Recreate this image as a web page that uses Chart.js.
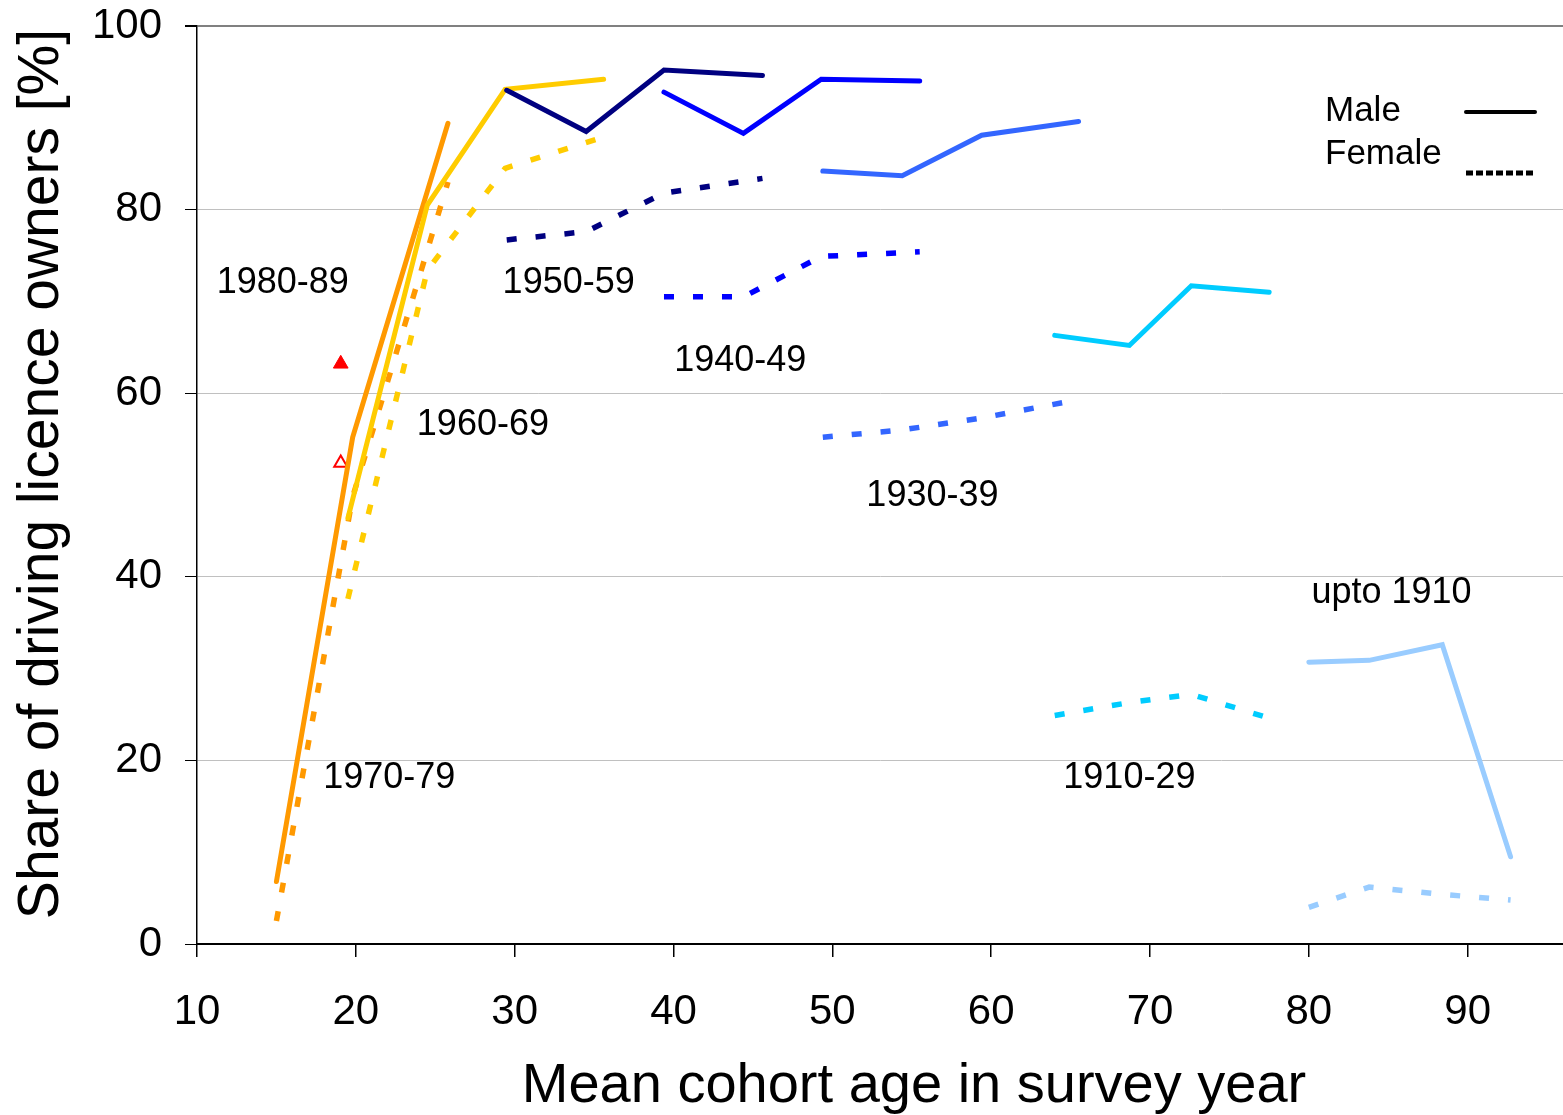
<!DOCTYPE html>
<html>
<head>
<meta charset="utf-8">
<script src="https://cdn.jsdelivr.net/npm/chart.js@4/dist/chart.umd.min.js"></script>
<style>
  body { margin: 0; background: #fff; }
  #wrap { width: 1563px; height: 1115px; }
</style>
</head>
<body>
<div id="wrap"><canvas id="chart" width="1563" height="1115"></canvas></div>
<script>
// mean cohort age in the survey year, share of licence owners [%]
const age7079 = [15.0, 19.8, 25.8];
const male7079 = [6.8, 55.2, 89.4];
const female7079 = [2.5, 48.7, 83.0];

const age6069 = [19.5, 24.5, 29.4, 35.6];
const male6069 = [46.4, 80.5, 93.1, 94.2];
const female6069 = [37.6, 73.4, 84.5, 87.9];

const age5059 = [29.5, 34.5, 39.4, 45.6];
const male5059 = [93.0, 88.5, 95.2, 94.6];
const female5059 = [76.7, 77.6, 81.8, 83.4];

const age4049 = [39.4, 44.4, 49.3, 55.5];
const male4049 = [92.8, 88.3, 94.2, 94.0];
const female4049 = [70.5, 70.5, 74.9, 75.4];

const age3039 = [49.4, 54.4, 59.4, 65.5];
const male3039 = [84.2, 83.7, 88.1, 89.6];
const female3039 = [55.2, 56.0, 57.3, 59.3];

const age1029 = [64.0, 68.7, 72.6, 77.5];
const male1029 = [66.3, 65.2, 71.7, 71.0];
const female1029 = [24.9, 26.3, 27.2, 24.6];

const ageTo1910 = [80.0, 83.8, 88.4, 92.7];
const maleTo1910 = [30.7, 30.9, 32.6, 9.5];
const femaleTo1910 = [4.0, 6.2, 5.4, 4.8];

// youngest cohort, one survey only
const age8089 = [19.05];
const male8089 = [63.2];
const female8089 = [52.4];

const cohortNames = ['1980-89', '1950-59', '1940-49', '1960-69', '1930-39', 'upto 1910', '1910-29', '1970-79'];
const nameAge = [15.4, 33.4, 44.2, 28.0, 56.3, 85.2, 68.7, 22.1];
const nameShare = [72.3, 72.3, 63.8, 56.8, 49.1, 38.6, 18.4, 18.4];

const xTicks = [10, 20, 30, 40, 50, 60, 70, 80, 90];

const FONT = "'Liberation Sans', Arial, sans-serif";

function pts(xs, ys) {
    return xs.map((x, i) => ({ x: x, y: ys[i] }));
}

function male(label, xs, ys, color) {
    return {
        label: label + ' male', data: pts(xs, ys),
        borderColor: color, borderWidth: 5, pointRadius: 0,
        borderCapStyle: 'round', borderJoinStyle: 'miter', tension: 0
    };
}

function female(label, xs, ys, color) {
    return {
        label: label + ' female', data: pts(xs, ys),
        borderColor: color, borderWidth: 5.5, pointRadius: 0,
        borderDash: [10, 19], borderCapStyle: 'butt', tension: 0
    };
}

const datasets = [
    female('1910-29', age1029, female1029, '#00ccff'),
    male('1910-29', age1029, male1029, '#00ccff'),
    female('upto 1910', ageTo1910, femaleTo1910, '#99ccff'),
    male('upto 1910', ageTo1910, maleTo1910, '#99ccff'),
    female('1930-39', age3039, female3039, '#3366ff'),
    male('1930-39', age3039, male3039, '#3366ff'),
    female('1940-49', age4049, female4049, '#0000ff'),
    male('1940-49', age4049, male4049, '#0000ff'),
    female('1950-59', age5059, female5059, '#000080'),
    male('1950-59', age5059, male5059, '#000080'),
    female('1960-69', age6069, female6069, '#ffcc00'),
    male('1960-69', age6069, male6069, '#ffcc00'),
    female('1970-79', age7079, female7079, '#ff9900'),
    male('1970-79', age7079, male7079, '#ff9900'),
    {
        label: '1980-89 male', data: pts(age8089, male8089), showLine: false,
        pointStyle: 'triangle', pointRadius: 8.5, backgroundColor: '#ff0000', borderColor: '#ff0000', borderWidth: 1
    },
    {
        label: '1980-89 female', data: pts(age8089, female8089), showLine: false,
        pointStyle: 'triangle', pointRadius: 7.5, backgroundColor: '#ffffff', borderColor: '#ff0000', borderWidth: 2
    }
];

// cohort names written next to their curves
const cohortLabels = {
    id: 'cohortLabels',
    afterDatasetsDraw(chart) {
        const ctx = chart.ctx;
        const xs = chart.scales.x, ys = chart.scales.y;
        ctx.save();
        ctx.font = '36px ' + FONT;
        ctx.fillStyle = '#000';
        ctx.textAlign = 'center';
        ctx.textBaseline = 'middle';
        cohortNames.forEach((name, i) => {
            // +3px: 'middle' sits a bit above the digit centre
            ctx.fillText(name, xs.getPixelForValue(nameAge[i]), ys.getPixelForValue(nameShare[i]) + 3);
        });
        ctx.restore();
    }
};

// key for solid (male) and dotted (female) lines
const sexKey = {
    id: 'sexKey',
    afterDatasetsDraw(chart) {
        const ctx = chart.ctx;
        const a = chart.chartArea;
        const tx = a.right - 238, lx0 = a.right - 97, lx1 = a.right - 28;
        ctx.save();
        ctx.font = '35px ' + FONT;
        ctx.fillStyle = '#000';
        ctx.textAlign = 'left';
        ctx.textBaseline = 'middle';
        ctx.fillText('Male', tx, a.top + 85);
        ctx.fillText('Female', tx, a.top + 128);
        ctx.strokeStyle = '#000';
        ctx.lineWidth = 4;
        ctx.lineCap = 'round';
        ctx.beginPath();
        ctx.moveTo(lx0, a.top + 86);
        ctx.lineTo(lx1, a.top + 86);
        ctx.stroke();
        ctx.lineWidth = 5;
        ctx.lineCap = 'butt';
        ctx.setLineDash([7, 3]);
        ctx.beginPath();
        ctx.moveTo(lx0, a.top + 147);
        ctx.lineTo(lx1, a.top + 147);
        ctx.stroke();
        ctx.restore();
    }
};

// axis titles, placed off the plot box
const axisTitles = {
    id: 'axisTitles',
    afterDraw(chart) {
        const ctx = chart.ctx;
        const a = chart.chartArea;
        ctx.save();
        ctx.fillStyle = '#000';
        ctx.textAlign = 'center';
        ctx.textBaseline = 'middle';
        ctx.font = '56px ' + FONT;
        ctx.fillText('Mean cohort age in survey year', (a.left + a.right) / 2 + 34, chart.height - 28);
        ctx.translate(42, (a.top + a.bottom) / 2 - 11);
        ctx.rotate(-Math.PI / 2);
        ctx.font = '57px ' + FONT;
        ctx.fillText('Share of driving licence owners [%]', 0, 0);
        ctx.restore();
    }
};

Chart.defaults.font.family = FONT;
Chart.defaults.color = '#000';

new Chart(document.getElementById('chart').getContext('2d'), {
    type: 'line',
    data: { datasets: datasets },
    plugins: [cohortLabels, sexKey, axisTitles],
    options: {
        responsive: false,
        animation: false,
        layout: { autoPadding: false, padding: { top: 26, right: 0, left: 0, bottom: 0 } },
        plugins: { legend: { display: false }, tooltip: { enabled: false } },
        scales: {
            x: {
                type: 'linear', min: 10, max: 96,
                afterBuildTicks: (scale) => { scale.ticks = xTicks.map(v => ({ value: v })); },
                afterFit: (scale) => {
                    scale.height = 171;
                    scale.paddingLeft = 0;
                    scale.paddingRight = 0;
                },
                ticks: { font: { size: 42 }, padding: 30, maxRotation: 0 },
                grid: { drawOnChartArea: false, tickLength: 13, tickColor: '#000', lineWidth: 1.5 },
                border: { color: '#000', width: 2 }
            },
            y: {
                min: 0, max: 100,
                afterFit: (scale) => {
                    scale.width = 197;
                    scale.paddingTop = 0;
                    scale.paddingBottom = 0;
                },
                ticks: { stepSize: 20, font: { size: 42 }, padding: 23 },
                grid: {
                    color: (c) => c.tick && c.tick.value === 100 ? '#808080' : '#c0c0c0',
                    lineWidth: (c) => c.tick && c.tick.value === 100 ? 2 : 1,
                    tickLength: 12, tickColor: '#000'
                },
                border: { color: '#000', width: 1.5 }
            }
        }
    }
});
</script>
</body>
</html>
